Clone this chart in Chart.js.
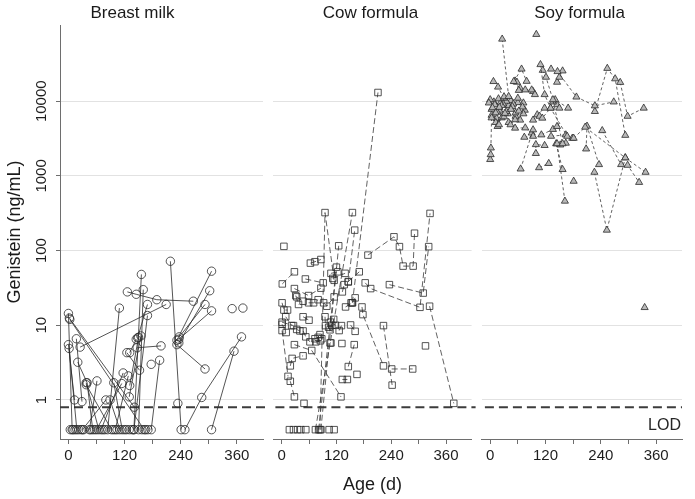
<!DOCTYPE html>
<html>
<head>
<meta charset="utf-8">
<script src="https://cdn.jsdelivr.net/npm/chart.js@4.4.1/dist/chart.umd.min.js"></script>
<style>
html,body{margin:0;padding:0;background:#fff;}
#wrap{position:relative;width:695px;height:499px;overflow:hidden;background:#fff;}
.pane{position:absolute;top:0;height:499px;}
canvas{display:block;}
</style>
</head>
<body>
<div id="wrap">
  <div class="pane" style="left:0px;width:268px"><canvas id="c0" width="268" height="499"></canvas></div>
  <div class="pane" style="left:268px;width:209px"><canvas id="c1" width="209" height="499"></canvas></div>
  <div class="pane" style="left:477px;width:218px"><canvas id="c2" width="218" height="499"></canvas></div>
</div>
<script>
// ---------------- data ----------------
const panelTitles = ['Breast milk', 'Cow formula', 'Soy formula'];
const ageTicks = [0, 60, 120, 180, 240, 300, 360];
const ageLabelled = [0, 120, 240, 360];
const genisteinTicks = [1, 10, 100, 1000, 10000];
const lodValue = 0.8;
const lodLabel = 'LOD';
const xTitle = 'Age (d)';
const yTitle = 'Genistein (ng/mL)';

// each entry = one infant: age (d), genistein (ng/mL), age, genistein, ...
const breastMilk = [
  [218,72, 241,0.4],
  [140,0.4, 156,48],
  [232,6.3, 306,53],
  [236,5.8, 302,29],
  [237,7.0, 292,19],
  [126,28, 145,26, 189,22, 267,21],
  [150,0.4, 160,30],
  [25,5.1, 209,19],
  [84,0.4, 109,17],
  [140,0.4, 169,13.5],
  [148,6.8, 169,19],
  [2,12.5, 141,0.8],
  [3,12, 162,0.4],
  [0,14.4, 8,0.4],
  [0,5.5, 13,1.0],
  [1.5,4.9, 18,0.4],
  [17,6.6, 29,0.95],
  [20,3.2, 40,1.7, 52,0.4],
  [249,0.4, 285,1.08, 370,7],
  [306,0.4, 354,4.5],
  [147,5.0, 198,5.3],
  [177,0.4, 195,3.4],
  [177,3.0],
  [232,5.5, 292,2.6],
  [234,0.9],
  [350,16.7],
  [373,17],
  [236,6.5, 306,15.6],
  [125,4.3, 152,2.5],
  [131,4.3, 145,6.5],
  [100,0.4, 128,2.1],
  [60,0.4, 114,1.66],
  [70,0.4, 117,2.3],
  [131,1.56, 150,6.9],
  [130,1.1, 155,7.2],
  [97,1.7, 115,0.4],
  [45,0.4, 61,1.8],
  [38,1.7, 65,0.4],
  [89,1.0, 110,0.4],
  [30,0.4, 80,1.0],
  [38,1.6, 92,0.4],
  [4,0.4],[10,0.4],[14,0.4],[22,0.4],[27,0.4],[33,0.4],[48,0.4],[56,0.4],
  [74,0.4],[78,0.4],[96,0.4],[104,0.4],[120,0.4],[124,0.4],[130,0.4],[136,0.4],
  [157,0.4],[165,0.4],[170,0.4]
];

const cowFormula = [
  [155,20, 211,13100],
  [84,0.4, 95,323, 115,40],
  [74,0.4, 155,323],
  [146,38, 160,188],
  [86,0.4, 125,116],
  [5,114],
  [189,87, 246,153, 258,113, 266,62, 288,62, 291,171],
  [183,37, 195,31, 303,17.4, 325,315],
  [236,35, 310,27, 322,113],
  [315,5.3],
  [324,18, 377,0.9],
  [176,17.6, 178,13.9, 223,2.86],
  [223,9.9, 242,1.58],
  [241,2.6, 287,2.6],
  [146,38.5, 170,52],
  [1.5,35.8, 28,52],
  [63,68, 73,71, 86,76],
  [108,49.6, 123,52],
  [112,42.4, 139,49.6],
  [52,41.7, 91,37],
  [28,31, 59,25, 86,31.4],
  [31,25, 37,19],
  [33,24, 47,21],
  [59,20, 70,20, 80,22],
  [92,20, 99,18, 115,24],
  [133,28, 137,35],
  [140,17.6, 155,20, 161,23.3],
  [152,20],
  [1,20, 5,16, 13,16],
  [9,13, 22,9.9],
  [1,11, 26,9.9],
  [1,10.3, 10,8],
  [1,8.5, 14,2.07],
  [19,1.78, 28,1.1],
  [19,2.86, 23,3.6, 47,3.9],
  [28,5.5, 66,4.6, 130,1.1],
  [47,13, 60,11.7],
  [33,8.8, 40,8.4],
  [95,13, 96,9.9],
  [107,11, 118,10],
  [110,10, 114,12],
  [103,9.4, 106,8.7],
  [84,7.5, 88,6.6],
  [73,6.6, 80,6.9],
  [47,8.4, 53,7, 62,6],
  [75,6, 85,6.2],
  [106,5.8, 108,5.8],
  [126,8.5, 131,9.9],
  [132,5.7],
  [151,10.1, 161,8.3],
  [146,2.8, 159,5.5],
  [165,2.2],
  [133,1.88, 144,1.88],
  [49,0.9],
  [17,0.4],[26,0.4],[35,0.4],[42,0.4],[53,0.4],
  [81,0.4, 120,60],
  [104,0.4],[115,0.4]
];

const soyFormula = [
  [26,68000, 40,11600],
  [100,78600],
  [51,18400, 68,27000, 79,18500],
  [109,31000, 118,12300, 131,8100, 167,3400],
  [114,26000, 121,21000, 136,10500, 157,2700],
  [132,27000, 146,25000, 187,11400, 227,8700, 268,9800],
  [145,18000, 150,21000, 157,25500],
  [227,7300, 254,27600, 271,20000, 293,3500],
  [282,17900, 298,6300, 333,8100],
  [243,4050, 284,1420, 298,1390, 323,820],
  [181,3200, 206,4500, 293,1750, 337,1120],
  [208,2300, 210,4650, 236,1420],
  [226,1120, 253,188, 293,1750],
  [145,2700, 162,460],
  [181,850],
  [143,2700, 157,1220],
  [152,2600, 164,2750],
  [106,1290, 127,1470],
  [66,1240, 93,4150],
  [99,2000, 99,2630, 118,2560],
  [74,3300, 93,3400],
  [132,3400, 164,3550, 178,3200],
  [111,3550, 136,4200, 145,4600],
  [0,1660, 1,1930, 1.5,2370, 3,6000],
  [16,4600, 19,4850, 30,11500],
  [54,4370, 76,4400, 90,3760],
  [40,5200, 44,4850, 54,5660],
  [107,6300, 113,5950, 131,8100],
  [93,5600, 102,6600, 118,8100],
  [7,18400, 17,15500, 30,11000],
  [54,18700, 58,18000, 62,14000],
  [76,14200, 90,14200, 97,12300],
  [65,15000, 93,13500],
  [136,9800, 141,10500, 169,8100],
  [145,9000, 150,8100],
  [-3,9500, 5,8200, 12,7000],
  [0,10500, 10,9000, 20,8300],
  [3,7800, 15,7200, 25,8800],
  [8,9800, 18,10800, 28,9200],
  [20,7600, 32,6900, 45,7800],
  [22,9500, 35,10000, 48,8500],
  [35,7300, 50,9200, 62,7400],
  [40,8800, 55,7000, 70,8400],
  [45,10200, 60,11000, 72,9500],
  [30,6200, 38,6800],
  [55,6300, 65,5600, 72,6800],
  [60,9600, 75,7600],
  [12,5200, 25,6000],
  [3,6500, 14,5900],
  [335,17.3]
];

// ---------------- drawing ----------------
const FONT = "'Liberation Sans', Arial, Helvetica, sans-serif";
Chart.defaults.font.family = FONT;
Chart.defaults.color = '#1e1e1e';

const X_MIN = -18, X_MAX = 416, Y_MIN = 0.313, Y_MAX = 105000;

const panelStyles = [
  { pointStyle: 'circle', pointRadius: 4.2, pointBorderWidth: 0.8, pointBorderColor: '#2a2a2a',
    pointBackgroundColor: 'rgba(0,0,0,0)', borderColor: '#2a2a2a', borderWidth: 0.8, borderDash: [] },
  { pointStyle: 'rect', pointRadius: 4.6, pointBorderWidth: 0.8, pointBorderColor: '#2a2a2a',
    pointBackgroundColor: 'rgba(0,0,0,0)', borderColor: '#3a3a3a', borderWidth: 0.8, borderDash: [6, 3] },
  { pointStyle: 'triangle', pointRadius: 4.1, pointBorderWidth: 0.8, pointBorderColor: '#2a2a2a',
    pointBackgroundColor: '#b9b9b9', borderColor: '#3a3a3a', borderWidth: 0.8, borderDash: [3, 2.5] }
];

function toDatasets(trajs, style) {
  return trajs.map(t => {
    const pts = [];
    for (let i = 0; i < t.length; i += 2) pts.push({ x: t[i], y: t[i + 1] });
    return Object.assign({ data: pts, showLine: pts.length > 1, tension: 0, pointHoverRadius: 0 }, style);
  });
}

const lodPlugin = {
  id: 'lodLine',
  beforeDatasetsDraw(chart, args, o) {
    const { ctx, chartArea: a, scales: { y } } = chart;
    const py = y.getPixelForValue(lodValue);
    ctx.save();
    ctx.strokeStyle = '#3c3c3c';
    ctx.lineWidth = 2;
    ctx.setLineDash([9, 5]);
    ctx.lineDashOffset = o.dashOffset || 0;
    ctx.beginPath();
    ctx.moveTo(a.left, py);
    ctx.lineTo(a.right + (o.extend || 0), py);
    ctx.stroke();
    ctx.setLineDash([]);
    if (o.label) {
      ctx.fillStyle = '#262626';
      ctx.font = '16px ' + FONT;
      ctx.textAlign = 'right';
      ctx.textBaseline = 'alphabetic';
      ctx.fillText(lodLabel, a.right - 1, py + 23);
    }
    ctx.restore();
  }
};

const panelData = [breastMilk, cowFormula, soyFormula];
const padRight = [3, 4, 13];
const absLeft = [60, 268, 477];

panelData.forEach((trajs, idx) => {
  const isFirst = idx === 0;
  const isMid = idx === 1;
  new Chart(document.getElementById('c' + idx), {
    type: 'scatter',
    data: { datasets: toDatasets(trajs, panelStyles[idx]) },
    options: {
      responsive: false,
      animation: false,
      devicePixelRatio: 1,
      events: [],
      layout: { padding: { left: 0, right: padRight[idx], top: 0, bottom: 0 } },
      plugins: {
        legend: { display: false },
        tooltip: { enabled: false },
        title: {
          display: true, text: panelTitles[idx], color: '#1a1a1a',
          font: { size: 17, weight: 'normal' }, padding: { top: 3, bottom: 1.6 }
        },
        lodLine: { extend: idx < 2 ? padRight[idx] : 0, label: idx === 2, dashOffset: absLeft[idx] - 60 }
      },
      scales: {
        x: {
          type: 'linear', min: X_MIN, max: X_MAX,
          afterBuildTicks: s => { s.ticks = ageTicks.map(v => ({ value: v })); },
          afterFit: s => { s.height = 60; },
          ticks: {
            autoSkip: false, maxRotation: 0, minRotation: 0, padding: 3, color: '#1e1e1e',
            font: { size: 15 },
            callback: v => ageLabelled.includes(v) ? String(v) : ''
          },
          grid: { drawOnChartArea: false, drawTicks: true, tickLength: 5, tickColor: '#6e6e6e', tickWidth: 1 },
          border: { display: true, color: '#6e6e6e', width: 1 },
          title: {
            display: isMid, text: xTitle, color: '#1a1a1a',
            font: { size: 18 }, padding: { top: 0, bottom: 3 }
          }
        },
        y: {
          type: 'logarithmic', min: Y_MIN, max: Y_MAX,
          afterBuildTicks: s => { s.ticks = genisteinTicks.map(v => ({ value: v })); },
          afterFit: s => { s.width = isFirst ? 60 : 0; },
          ticks: {
            display: isFirst, minRotation: 90, maxRotation: 90, crossAlign: 'center',
            padding: -7, color: '#1e1e1e', font: { size: 15 },
            callback: v => String(v)
          },
          grid: { color: '#e2e2e2', lineWidth: 1, drawTicks: isFirst, tickLength: 4, tickColor: '#6e6e6e' },
          border: { display: isFirst, color: '#6e6e6e', width: 1 },
          title: {
            display: isFirst, text: yTitle, color: '#1a1a1a',
            font: { size: 18 }, padding: { top: 4, bottom: 0 }
          }
        }
      }
    },
    plugins: [lodPlugin]
  });
});
</script>
</body>
</html>
